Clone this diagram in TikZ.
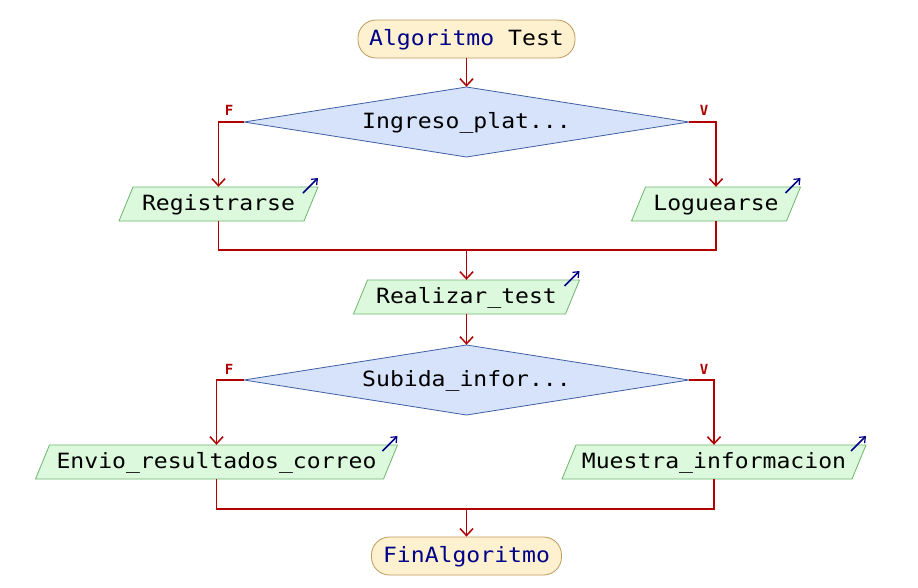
\documentclass[tikz,border=0pt]{standalone}
\usepackage{fontspec}
\setmainfont[FakeStretch=1.1]{DejaVu Sans Mono}
\newfontfamily\lblfont{DejaVu Sans Mono}
\usetikzlibrary{arrows.meta,calc}
\definecolor{conn}{HTML}{B00000}
\definecolor{termfill}{HTML}{FDF1D0}
\definecolor{termline}{HTML}{BF9A5C}
\definecolor{decfill}{HTML}{D6E3FB}
\definecolor{decline}{HTML}{3F5FA3}
\definecolor{pgfill}{HTML}{DDF9DD}
\definecolor{pgline}{HTML}{6DB56D}
\definecolor{kw}{HTML}{000088}
\newcommand\pgnode[5]{%
  \filldraw[fill=pgfill,draw=pgline,line width=0.8pt]
    (#2-#4-7,#3+17) -- (#2-#4+7,#3-17) -- (#2+#4+7,#3-17) -- (#2+#4-7,#3+17) -- cycle;
  \node[txt,minimum width=2*#4] (#1) at (#2,#3) {#5};
  \draw[outarrow] (#2+#4+7-15,#3-17+6) -- ++(15,-15);
}
\newcommand\decnode[4]{% name, x, y, text
  \filldraw[fill=decfill,draw=decline,line width=0.8pt]
    (#2-222.5,#3) -- (#2,#3-35) -- (#2+222.5,#3) -- (#2,#3+35) -- cycle;
  \node[txt,minimum width=445,minimum height=70] (#1) at (#2,#3) {#4};
}
\begin{document}
\begin{tikzpicture}[x=1pt,y=-1pt,
  txt/.style={inner sep=0pt,minimum height=34,font=\fontsize{21}{25}\selectfont,text height=16pt,text depth=4pt},
  term/.style={txt,draw=termline,fill=termfill,line width=0.8pt,rounded corners=18pt,minimum height=38},
  conn/.style={draw=conn,line width=1.9pt},
  arr/.style={conn,-{Straight Barb[length=7pt,width=13pt,line width=1.5pt]}},
  outarrow/.style={draw=kw,line width=1.5pt,-{Straight Barb[length=5pt,width=8pt,line width=1.2pt]}},
  lbl/.style={text=conn,font=\lblfont\bfseries\fontsize{14}{16}\selectfont,inner sep=0pt}]
\useasboundingbox (0,0) rectangle (918,587);
\fill[white] (0,0) rectangle (918,587);

\node[term,minimum width=217] (start) at (466.5,39) {\textcolor{kw}{Algoritmo} Test};
\decnode{d1}{466.5}{122}{Ingreso\_plat...}
\node[lbl] (f1) at (229,110) {F};
\node[lbl] (v1) at (704,110) {V};
\pgnode{reg}{218.5}{204}{92.5}{Registrarse}
\pgnode{log}{716}{204}{77.5}{Loguearse}
\coordinate (m1) at (466.5,250);
\pgnode{real}{466.5}{297}{106}{Realizar\_test}
\decnode{d2}{466.5}{380}{Subida\_infor...}
\node[lbl] (f2) at (229,369) {F};
\node[lbl] (v2) at (704,369) {V};
\pgnode{env}{216.5}{462}{174}{Envio\_resultados\_correo}
\pgnode{mue}{714}{462}{145}{Muestra\_informacion}
\coordinate (m2) at (466.5,509);
\node[term,minimum width=190] (fin) at (466.5,556) {\textcolor{kw}{FinAlgoritmo}};

\draw[arr] (start.south) -- (d1.north);
\draw[arr] (d1.west) -| (reg.north);
\draw[arr] (d1.east) -| (log.north);
\draw[conn] (reg.south) |- (m1) -| (log.south);
\draw[arr] (m1) -- (real.north);
\draw[arr] (real.south) -- (d2.north);
\draw[arr] (d2.west) -| (env.north);
\draw[arr] (d2.east) -| (mue.north);
\draw[conn] (env.south) |- (m2) -| (mue.south);
\draw[arr] (m2) -- (fin.north);
\end{tikzpicture}
\end{document}
